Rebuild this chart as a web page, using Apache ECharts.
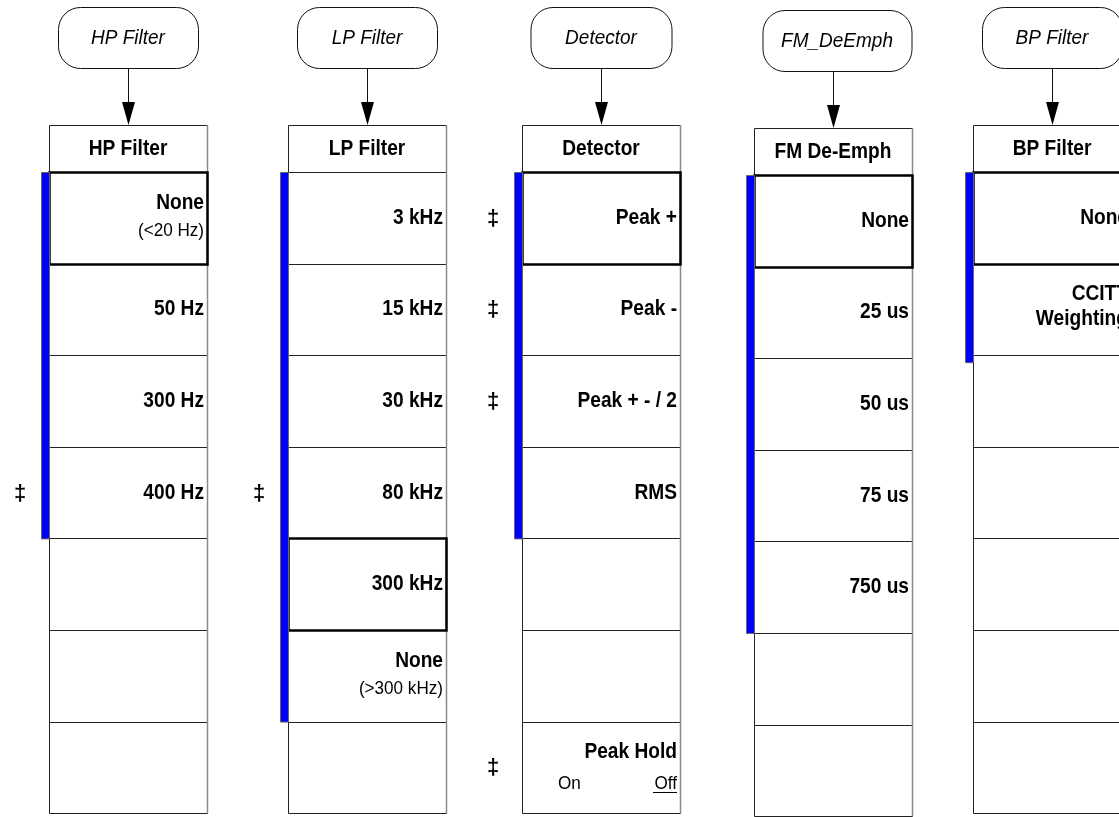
<!DOCTYPE html>
<html>
<head>
<meta charset="utf-8">
<script src="https://cdn.jsdelivr.net/npm/echarts@6/dist/echarts.min.js"></script>
<style>
html,body{margin:0;padding:0;background:#fff;}
#chart{width:1119px;height:817px;}
</style>
</head>
<body>
<div id="chart"></div>
<script>
// ---- content ----
const menuKeys = ['HP Filter', 'LP Filter', 'Detector', 'FM_DeEmph', 'BP Filter'];
const menuTitles = ['HP Filter', 'LP Filter', 'Detector', 'FM De-Emph', 'BP Filter'];
const hpItems = [['None', '(<20 Hz)'], ['50 Hz'], ['300 Hz'], ['400 Hz'], [], [], []];
const lpItems = [['3 kHz'], ['15 kHz'], ['30 kHz'], ['80 kHz'], ['300 kHz'], ['None', '(>300 kHz)'], []];
const detItems = [['Peak +'], ['Peak -'], ['Peak + - / 2'], ['RMS'], [], [], ['Peak Hold', 'On|Off']];
const fmItems = [['None'], ['25 us'], ['50 us'], ['75 us'], ['750 us'], [], []];
const bpItems = [['None'], ['CCITT', 'Weighting'], [], [], [], [], []];
const selectedRow = [0, 4, 0, 0, 0];
const activeRows = [4, 6, 4, 5, 2];
const hpDaggers = [3];
const lpDaggers = [3];
const detDaggers = [0, 1, 2, 6];
const fmDaggers = [];
const bpDaggers = [];

const allItems = [hpItems, lpItems, detItems, fmItems, bpItems];
const allDaggers = [hpDaggers, lpDaggers, detDaggers, fmDaggers, bpDaggers];

// ---- layout ----
const colLeft = [49, 288, 522, 754, 973];
const colShift = [0, 0, 0, 3, 0];
const bubbleW = [140, 140, 141, 149, 140];
const boxW = 158, headTop = 125, headBot = 172, rowH = 91.6;
const FONT = '"Liberation Sans", Arial, sans-serif';
const BOLD = 'bold 22px ' + FONT, BOLD_SX = 0.87;
const SUB = '19px ' + FONT, SUB_SX = 0.9;
const ITAL = 'italic 20px ' + FONT, ITAL_SX = 0.95;

function txt(c, str, font, align, sx) {
  return {type: 'text', x: c[0], y: c[1], scaleX: sx, scaleY: 1,
    style: {x: 0, y: 0, text: str, font: font, align: align, verticalAlign: 'middle', fill: '#000'}};
}

function renderItem(params, api) {
  const i = params.dataIndex;
  const L = colLeft[i], dy = colShift[i];
  const cxv = L + boxW / 2;
  const P = (x, y) => api.coord([x, y]);
  const ch = [];
  // bubble
  const bx0 = cxv - bubbleW[i] / 2 + (i === 3 ? 4 : 0);
  const a = P(bx0, 7 + dy), b = P(bx0 + bubbleW[i], 68 + dy);
  ch.push({type: 'rect', shape: {x: a[0] + 0.5, y: a[1] + 0.5, width: b[0] - a[0], height: b[1] - a[1], r: 22},
    style: {fill: '#fff', stroke: '#111', lineWidth: 1}});
  ch.push(txt(P(bx0 + bubbleW[i] / 2, 38 + dy), menuKeys[i], ITAL, 'center', ITAL_SX));
  // arrow
  const l0 = P(cxv, 68 + dy), l1 = P(cxv, 104 + dy);
  ch.push({type: 'line', shape: {x1: l0[0] + 0.5, y1: l0[1], x2: l1[0] + 0.5, y2: l1[1]}, style: {stroke: '#111', lineWidth: 1}});
  const t1 = P(cxv - 6, 102 + dy), t2 = P(cxv + 7, 102 + dy), t3 = P(cxv + 0.5, 125 + dy);
  ch.push({type: 'polygon', shape: {points: [t1, t2, t3]}, style: {fill: '#000'}});
  // header
  const h0 = P(L, headTop + dy), h1 = P(L + boxW, headBot + dy);
  ch.push({type: 'rect', shape: {x: h0[0] + 0.5, y: h0[1] + 0.5, width: h1[0] - h0[0], height: h1[1] - h0[1]},
    style: {fill: '#fff', stroke: '#222', lineWidth: 1}});
  ch.push(txt(P(cxv, (headTop + headBot) / 2 + dy), menuTitles[i], BOLD, 'center', BOLD_SX));
  // rows
  const items = allItems[i];
  items.forEach((it, r) => {
    const y0 = headBot + dy + r * rowH, y1 = y0 + rowH;
    const r0 = P(L, y0), r1 = P(L + boxW, y1);
    ch.push({type: 'rect', shape: {x: r0[0] + 0.5, y: Math.round(r0[1]) + 0.5, width: r1[0] - r0[0], height: Math.round(r1[1]) - Math.round(r0[1])},
      style: {fill: 'none', stroke: '#222', lineWidth: 1}});
    const yc = (y0 + y1) / 2;
    const rx = L + boxW - 3;
    if (it.length === 1) {
      ch.push(txt(P(rx, yc), it[0], BOLD, 'right', BOLD_SX));
    } else if (it.length === 2) {
      ch.push(txt(P(rx, yc - 15), it[0], BOLD, 'right', BOLD_SX));
      if (it[1].indexOf('|') >= 0) {
        const parts = it[1].split('|');
        ch.push(txt(P(L + 36, yc + 16), parts[0], SUB, 'left', SUB_SX));
        ch.push(txt(P(rx, yc + 16), parts[1], SUB, 'right', SUB_SX));
        const u0 = P(rx - 24, yc + 25), u1 = P(rx, yc + 25);
        ch.push({type: 'line', shape: {x1: u0[0], y1: Math.round(u0[1]) + 0.5, x2: u1[0], y2: Math.round(u1[1]) + 0.5}, style: {stroke: '#000', lineWidth: 1}});
      } else if (i === 4) {
        ch.push(txt(P(rx, yc + 10), it[1], BOLD, 'right', BOLD_SX));
      } else {
        ch.push(txt(P(rx, yc + 13), it[1], SUB, 'right', SUB_SX));
      }
    }
  });
  // grey right edge of the menu column
  const e0 = P(L + boxW, headTop + dy), e1 = P(L + boxW, headBot + dy + items.length * rowH);
  ch.push({type: 'line', shape: {x1: e0[0] + 0.5, y1: e0[1], x2: e1[0] + 0.5, y2: e1[1]}, style: {stroke: '#8a8a8a', lineWidth: 1.5}});
  // selected row
  const s = selectedRow[i];
  const s0 = P(L, headBot + dy + s * rowH), s1 = P(L + boxW, headBot + dy + (s + 1) * rowH);
  ch.push({type: 'rect', shape: {x: s0[0] + 0.5, y: Math.round(s0[1]) + 0.5, width: s1[0] - s0[0], height: Math.round(s1[1]) - Math.round(s0[1])},
    style: {fill: 'none', stroke: '#000', lineWidth: 2.5}});
  // active (blue) bar
  const a0 = P(L - 8, headBot + dy), a1 = P(L, headBot + dy + activeRows[i] * rowH + (i === 4 ? 7 : 0));
  ch.push({type: 'rect', shape: {x: a0[0] + 0.5, y: a0[1] + 0.5, width: a1[0] - a0[0], height: a1[1] - a0[1]},
    style: {fill: '#0000ff', stroke: '#666', lineWidth: 1}});
  // daggers
  allDaggers[i].forEach(r => {
    const yc = headBot + dy + (r + 0.5) * rowH;
    ch.push(txt(P(L - 29, yc + 1), '\u2021', 'bold 22px ' + FONT, 'center', 1));
  });
  return {type: 'group', children: ch};
}

const chart = echarts.init(document.getElementById('chart'), null, {renderer: 'canvas'});
chart.setOption({
  animation: false,
  backgroundColor: '#fff',
  grid: {left: 0, right: 0, top: 0, bottom: 0},
  xAxis: {type: 'value', min: 0, max: 1119, show: false},
  yAxis: {type: 'value', min: 0, max: 817, inverse: true, show: false},
  series: [{
    type: 'custom',
    coordinateSystem: 'cartesian2d',
    renderItem: renderItem,
    clip: false,
    data: menuKeys.map((k, idx) => [colLeft[idx], 0])
  }]
});
</script>
</body>
</html>
